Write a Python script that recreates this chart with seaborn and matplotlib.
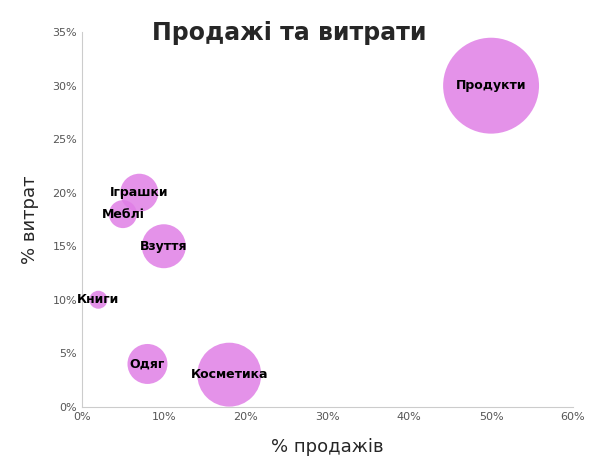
import matplotlib
matplotlib.use("Agg")
import matplotlib.pyplot as plt
import seaborn as sns
import pandas as pd
from matplotlib.ticker import FuncFormatter

categories = ["Продукти", "Косметика", "Одяг", "Взуття", "Іграшки", "Меблі", "Книги"]
sales = [50, 18, 8, 10, 7, 5, 2]
costs = [30, 3, 4, 15, 20, 18, 10]
weight = [2304, 1024, 400, 484, 361, 196, 81]

df = pd.DataFrame({"cat": categories, "sales": sales, "costs": costs, "w": weight})

sns.set_style("white")
plt.rcParams['font.family'] = ['DejaVu Sans']
fig = plt.figure(figsize=(5.9, 4.73), dpi=100)
ax = fig.add_axes([0.139, 0.14, 0.832, 0.792])
sns.scatterplot(data=df, x="sales", y="costs", s=[w * 2.07 for w in weight],
                color="#e07fe6", alpha=0.85, edgecolor="none", ax=ax, legend=False)
for c, x, y in zip(categories, sales, costs):
    ax.text(x, y, c, ha="center", va="center", fontsize=9, fontweight="bold", color="black")
ax.set_xlim(0, 60)
ax.set_ylim(0, 35)
ax.set_xticks(range(0, 61, 10))
ax.set_yticks(range(0, 36, 5))
ax.xaxis.set_major_formatter(FuncFormatter(lambda v, p: f"{int(v)}%"))
ax.yaxis.set_major_formatter(FuncFormatter(lambda v, p: f"{int(v)}%"))
ax.tick_params(labelsize=8, colors="#555555", length=0)
for s in ["top", "right"]:
    ax.spines[s].set_visible(False)
for s in ["left", "bottom"]:
    ax.spines[s].set_color("#cccccc")
ax.set_xlabel("% продажів", fontsize=13, labelpad=12)
ax.set_ylabel("% витрат", fontsize=13, labelpad=10)
fig.text(0.49, 0.93, "Продажі та витрати", ha="center", va="center", fontsize=17, fontweight="bold")
fig.savefig("out.png", dpi=100)
